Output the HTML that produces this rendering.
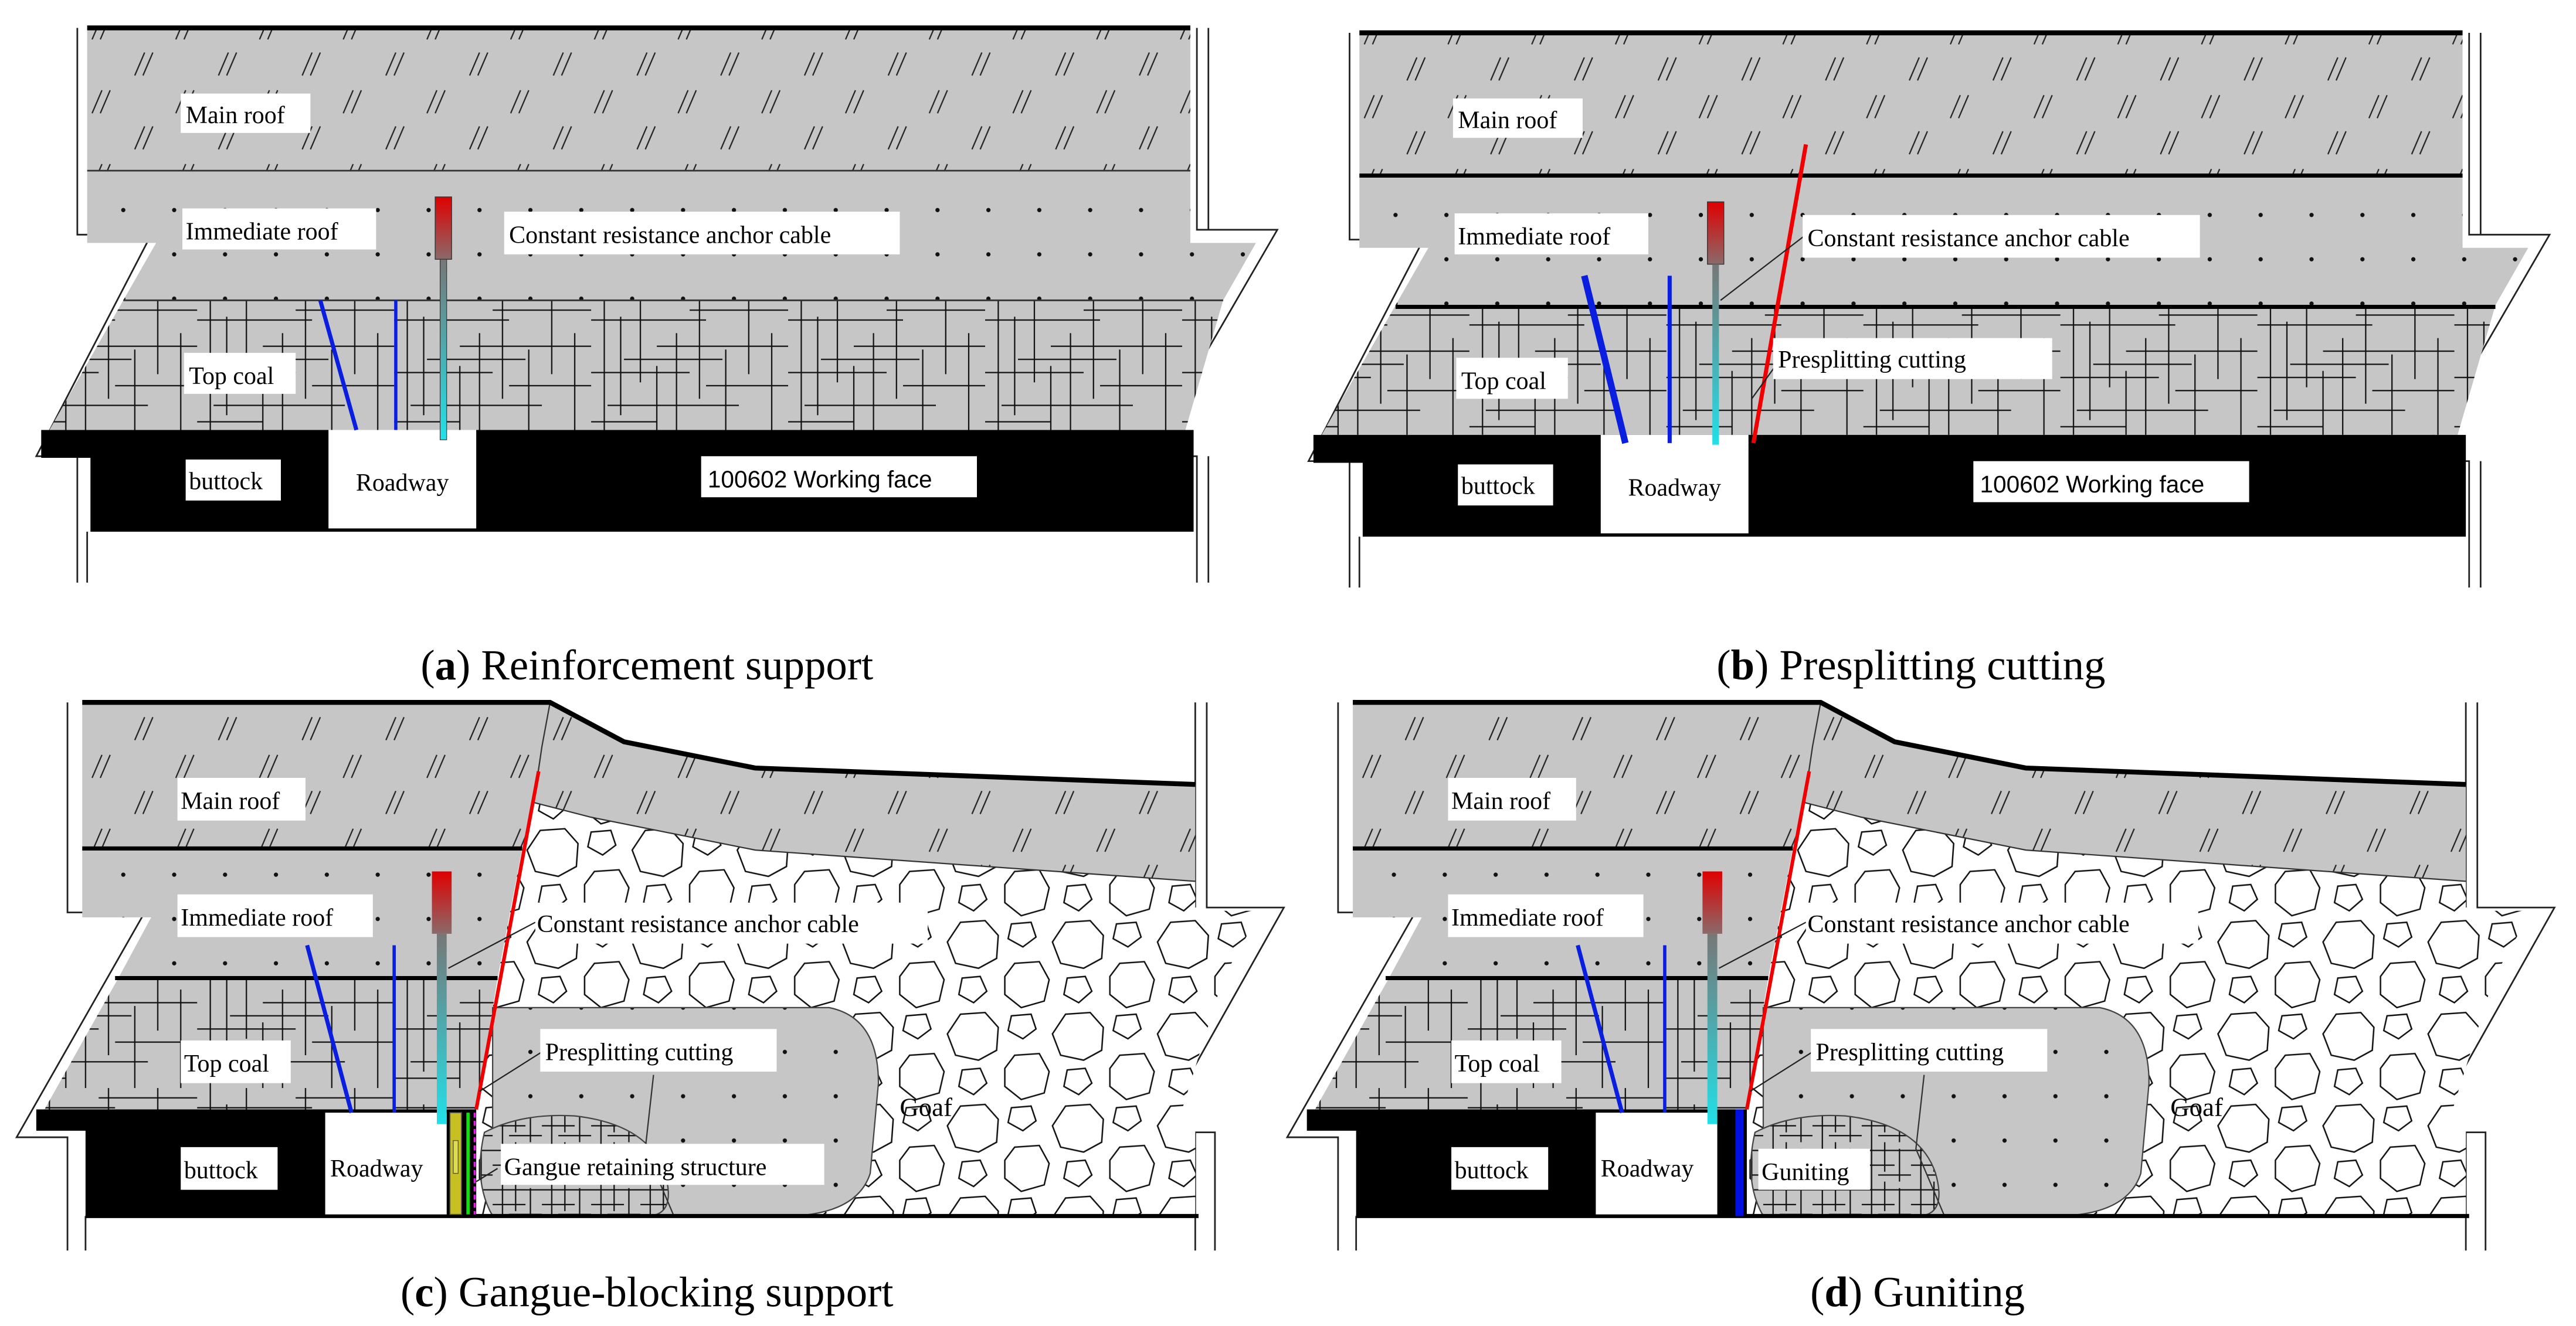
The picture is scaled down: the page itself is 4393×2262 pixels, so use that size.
<!DOCTYPE html>
<html><head><meta charset="utf-8"><style>
html,body{margin:0;padding:0;background:#fff;}
svg{display:block;}
text{font-family:"Liberation Serif",serif;}
</style></head><body>
<svg width="4393" height="2262" viewBox="0 0 1569 808" xmlns="http://www.w3.org/2000/svg" font-family="Liberation Serif, serif">
<defs>
<pattern id="hatch" patternUnits="userSpaceOnUse" width="51" height="45" x="0" y="6">
<rect width="51" height="45" fill="#c6c6c6"/>
<g stroke="#222" stroke-width="0.8">
<line x1="11" y1="4" x2="5" y2="18"/><line x1="16" y1="4" x2="10" y2="18"/>
<line x1="37" y1="26" x2="31" y2="40"/><line x1="42" y1="26" x2="36" y2="40"/>
</g></pattern>
<pattern id="dots" patternUnits="userSpaceOnUse" width="31" height="27" x="3" y="0">
<rect width="31" height="27" fill="#c6c6c6"/><circle cx="10" cy="20" r="1.3" fill="#111"/>
</pattern>
<pattern id="grid" patternUnits="userSpaceOnUse" width="120" height="80" x="0" y="183">
<rect width="120" height="80" fill="#c6c6c6"/>
<g stroke="#111" stroke-width="0.8">
<line x1="0" y1="12" x2="70" y2="12"/><line x1="40" y1="28" x2="120" y2="28"/>
<line x1="0" y1="44" x2="60" y2="44"/><line x1="70" y1="52" x2="120" y2="52"/>
<line x1="10" y1="64" x2="90" y2="64"/><line x1="0" y1="74" x2="40" y2="74"/>
<line x1="60" y1="6" x2="120" y2="6"/><line x1="20" y1="36" x2="80" y2="36"/>
<line x1="8" y1="0" x2="8" y2="80"/><line x1="18" y1="10" x2="18" y2="70"/>
<line x1="30" y1="0" x2="30" y2="50"/><line x1="52" y1="20" x2="52" y2="80"/>
<line x1="66" y1="0" x2="66" y2="60"/><line x1="82" y1="30" x2="82" y2="80"/>
<line x1="96" y1="0" x2="96" y2="45"/><line x1="110" y1="20" x2="110" y2="80"/>
<line x1="40" y1="40" x2="40" y2="80"/>
</g></pattern>
<pattern id="grid2" patternUnits="userSpaceOnUse" width="30" height="24">
<rect width="30" height="24" fill="#c6c6c6"/>
<g stroke="#111" stroke-width="0.8">
<line x1="0" y1="5" x2="30" y2="5"/><line x1="0" y1="14" x2="20" y2="14"/><line x1="10" y1="20" x2="30" y2="20"/>
<line x1="6" y1="0" x2="6" y2="24"/><line x1="14" y1="0" x2="14" y2="18"/><line x1="23" y1="4" x2="23" y2="24"/>
</g></pattern>
<pattern id="rocks" patternUnits="userSpaceOnUse" width="64" height="56">
<rect width="64" height="56" fill="#fff"/>
<g fill="none" stroke="#111" stroke-width="0.9">
<polygon points="9,2 24,1 32,10 31,24 20,30 6,27 1,14"/>
<polygon points="42,27 57,26 63,37 60,50 46,54 36,46 36,35"/>
<polygon points="40,3 52,2 55,11 47,17 38,12"/>
<polygon points="10,36 21,35 25,44 17,51 8,46"/>
</g></pattern>
<linearGradient id="anc" x1="0" y1="0" x2="0" y2="1">
<stop offset="0" stop-color="#e00000"/><stop offset="1" stop-color="#8a6a6a"/></linearGradient>
<linearGradient id="rod" x1="0" y1="0" x2="0" y2="1">
<stop offset="0" stop-color="#777"/><stop offset="1" stop-color="#22e0e8"/></linearGradient>
</defs>

<!-- (a) -->
<g>
<polyline points="47,17 47,143 92,143 22,278 47,278 47,355" fill="none" stroke="#222" stroke-width="1"/>
<line x1="53" y1="324" x2="53" y2="355" stroke="#222" stroke-width="1"/>
<polyline points="729,17 729,140 778,140 698,278 729,278 729,355" fill="none" stroke="#222" stroke-width="1"/>
<line x1="736" y1="17" x2="736" y2="140" stroke="#222" stroke-width="1"/>
<line x1="736" y1="278" x2="736" y2="355" stroke="#222" stroke-width="1"/>
<rect x="53" y="17" width="672" height="87" fill="url(#hatch)"/>
<polygon points="53,104 725,104 725,148 765,148 745,183 75,183 95,148 53,148" fill="url(#dots)"/>
<line x1="53" y1="104" x2="725" y2="104" stroke="#333" stroke-width="1"/>
<polygon points="75,183 745,183 722,262 30,262" fill="url(#grid)"/>
<line x1="75" y1="183" x2="745" y2="183" stroke="#333" stroke-width="1"/>
<polygon points="25,262 727,262 727,324 55,324 55,279 25,279" fill="#000"/>
<line x1="53" y1="17" x2="725" y2="17" stroke="#000" stroke-width="3"/>
<rect x="200" y="262" width="90" height="60" fill="#fff"/>
<text x="245" y="299" font-size="15" text-anchor="middle">Roadway</text>
<rect x="110" y="57" width="79" height="24" fill="#fff"/><text x="113" y="75" font-size="15">Main roof</text>
<rect x="111" y="127" width="118" height="25" fill="#fff"/><text x="113" y="146" font-size="15">Immediate roof</text>
<rect x="112" y="215" width="68" height="25" fill="#fff"/><text x="115" y="234" font-size="15">Top coal</text>
<rect x="113" y="280" width="58" height="25" fill="#fff"/><text x="115" y="298" font-size="15">buttock</text>
<rect x="427" y="278" width="168" height="25" fill="#fff"/><text x="431" y="297" font-size="14.5" font-family="Liberation Sans, sans-serif" style="font-family:'Liberation Sans',sans-serif">100602  Working face</text>
<line x1="195" y1="183" x2="217" y2="262" stroke="#0a1ee0" stroke-width="2.5"/>
<line x1="241" y1="183" x2="241" y2="262" stroke="#0a1ee0" stroke-width="2"/>
<rect x="265" y="120" width="10" height="38" fill="url(#anc)" stroke="#333" stroke-width="0.5"/>
<rect x="268" y="158" width="4" height="110" fill="url(#rod)" stroke="#333" stroke-width="0.4"/>
<rect x="307" y="129" width="241" height="26" fill="#fff"/><text x="310" y="148" font-size="15">Constant resistance anchor cable</text>
</g>
<text x="394" y="414" font-size="26" text-anchor="middle">(<tspan font-weight="bold">a</tspan>) Reinforcement support</text>

<!-- (b) -->
<g transform="translate(775,3)">
<polyline points="47,17 47,143 92,143 22,278 47,278 47,355" fill="none" stroke="#222" stroke-width="1"/>
<line x1="53" y1="324" x2="53" y2="355" stroke="#222" stroke-width="1"/>
<polyline points="729,17 729,140 778,140 698,278 729,278 729,355" fill="none" stroke="#222" stroke-width="1"/>
<line x1="736" y1="17" x2="736" y2="140" stroke="#222" stroke-width="1"/>
<line x1="736" y1="278" x2="736" y2="355" stroke="#222" stroke-width="1"/>
<rect x="53" y="17" width="672" height="87" fill="url(#hatch)"/>
<polygon points="53,104 725,104 725,148 765,148 745,183 75,183 95,148 53,148" fill="url(#dots)"/>
<polygon points="75,183 745,183 722,262 30,262" fill="url(#grid)"/>
<polygon points="25,262 727,262 727,324 55,324 55,279 25,279" fill="#000"/>
<line x1="53" y1="17" x2="725" y2="17" stroke="#000" stroke-width="3"/>
<line x1="53" y1="104" x2="725" y2="104" stroke="#000" stroke-width="2.5"/>
<line x1="75" y1="184" x2="745" y2="184" stroke="#000" stroke-width="2.5"/>
<rect x="200" y="262" width="90" height="60" fill="#fff"/>
<text x="245" y="299" font-size="15" text-anchor="middle">Roadway</text>
<rect x="110" y="57" width="79" height="24" fill="#fff"/><text x="113" y="75" font-size="15">Main roof</text>
<rect x="111" y="127" width="118" height="25" fill="#fff"/><text x="113" y="146" font-size="15">Immediate roof</text>
<rect x="112" y="215" width="68" height="25" fill="#fff"/><text x="115" y="234" font-size="15">Top coal</text>
<rect x="113" y="280" width="58" height="25" fill="#fff"/><text x="115" y="298" font-size="15">buttock</text>
<rect x="427" y="278" width="168" height="25" fill="#fff"/><text x="431" y="297" font-size="14.5" font-family="Liberation Sans, sans-serif" style="font-family:'Liberation Sans',sans-serif">100602  Working face</text>
<line x1="293" y1="267" x2="325" y2="85" stroke="#f00000" stroke-width="2.5"/>
<rect x="265" y="120" width="10" height="38" fill="url(#anc)" stroke="#333" stroke-width="0.5"/>
<rect x="268" y="158" width="4" height="110" fill="url(#rod)"/>
<line x1="273" y1="180" x2="325" y2="140" stroke="#222" stroke-width="0.8"/>
<line x1="292" y1="240" x2="310" y2="215" stroke="#222" stroke-width="0.8"/>
<line x1="190" y1="165" x2="215" y2="267" stroke="#0a1ee0" stroke-width="4"/>
<line x1="242" y1="165" x2="242" y2="267" stroke="#0a1ee0" stroke-width="2.5"/>
<rect x="323" y="128" width="242" height="26" fill="#fff"/><text x="326" y="147" font-size="15">Constant resistance anchor cable</text>
<rect x="305" y="203" width="170" height="25" fill="#fff"/><text x="308" y="221" font-size="15">Presplitting cutting</text>
</g>
<text x="1164" y="414" font-size="26" text-anchor="middle">(<tspan font-weight="bold">b</tspan>) Presplitting cutting</text>

<!-- (c) -->
<g>
<polyline points="41,428 41,556 88,556 10,693 41,693 41,762" fill="none" stroke="#222" stroke-width="1"/>
<line x1="52" y1="741" x2="52" y2="762" stroke="#222" stroke-width="1"/>
<polyline points="735,428 735,553 782,553 705,690 740,690 740,762" fill="none" stroke="#222" stroke-width="1"/>
<line x1="728" y1="428" x2="728" y2="553" stroke="#222" stroke-width="1"/>
<line x1="728" y1="690" x2="728" y2="762" stroke="#222" stroke-width="1"/>
<polygon points="318,517 325,489 360,498 460,518 728,537 728,555 768,555 745,596 720,676 728,676 728,740 290,740 290,676 303,596" fill="url(#rocks)"/>
<polygon points="50,428 335,428 380,452 460,468 728,478 728,537 460,518 360,498 325,489 318,517 50,517" fill="url(#hatch)"/>
<polyline points="335,428 330,455 325,489" fill="none" stroke="#333" stroke-width="0.8"/>
<polyline points="50,428 335,428 380,452 460,468 728,478" fill="none" stroke="#000" stroke-width="3"/>
<polyline points="325,489 360,498 460,518 728,537" fill="none" stroke="#333" stroke-width="0.8"/>
<polygon points="50,517 318,517 303,596 72,596 92,559 50,559" fill="url(#dots)"/>
<line x1="50" y1="517" x2="318" y2="517" stroke="#000" stroke-width="2.5"/>
<polygon points="72,596 303,596 290,676 27,676" fill="url(#grid)"/>
<line x1="70" y1="596" x2="303" y2="596" stroke="#000" stroke-width="2.5"/>
<path d="M300,614 L505,614 Q535,620 535,660 L530,715 Q522,740 480,741 L300,741 Z" fill="url(#dots)" stroke="#444" stroke-width="0.8"/>
<path d="M295,690 Q318,678 350,680 Q395,685 405,715 Q412,740 395,741 L300,741 Q288,720 295,690Z" fill="url(#grid2)" stroke="#444" stroke-width="0.8"/>
<polyline points="398,655 393,700 410,740" fill="none" stroke="#333" stroke-width="0.8"/>
<polygon points="22,676 290,676 290,741 52,741 52,689 22,689" fill="#000"/>
<line x1="52" y1="741" x2="730" y2="741" stroke="#000" stroke-width="2.5"/>
<rect x="198" y="678" width="74" height="62" fill="#fff"/>
<text x="201" y="717" font-size="15">Roadway</text>
<line x1="290" y1="676" x2="328" y2="470" stroke="#f00000" stroke-width="2.2"/>
<line x1="187" y1="576" x2="214" y2="678" stroke="#0a1ee0" stroke-width="2.5"/>
<line x1="240" y1="576" x2="240" y2="678" stroke="#0a1ee0" stroke-width="2"/>
<rect x="263" y="531" width="12" height="38" fill="url(#anc)"/>
<rect x="266" y="569" width="6" height="116" fill="url(#rod)"/>
<line x1="273" y1="590" x2="326" y2="562" stroke="#222" stroke-width="0.8"/>
<line x1="292" y1="665" x2="330" y2="641" stroke="#222" stroke-width="0.8"/>
<rect x="108" y="474" width="78" height="26" fill="#fff"/><text x="110" y="493" font-size="15">Main roof</text>
<rect x="108" y="545" width="119" height="26" fill="#fff"/><text x="110" y="564" font-size="15">Immediate roof</text>
<rect x="326" y="550" width="239" height="25" fill="#fff"/><text x="327" y="568" font-size="15">Constant resistance anchor cable</text>
<rect x="329" y="627" width="144" height="26" fill="#fff"/><text x="332" y="646" font-size="15">Presplitting cutting</text>
<rect x="110" y="634" width="67" height="26" fill="#fff"/><text x="112" y="653" font-size="15">Top coal</text>
<rect x="110" y="699" width="59" height="26" fill="#fff"/><text x="112" y="718" font-size="15">buttock</text>
<text x="548" y="680" font-size="16">Goaf</text>
<rect x="274" y="678" width="7" height="62" fill="#c8c020" stroke="#555" stroke-width="0.6"/>
<rect x="276" y="695" width="3" height="20" fill="#e0dc50" stroke="#555" stroke-width="0.5"/>
<line x1="285" y1="678" x2="285" y2="740" stroke="#10e010" stroke-width="2"/>
<line x1="289" y1="678" x2="289" y2="740" stroke="#e020e0" stroke-width="1.2" stroke-dasharray="3,2"/>
<line x1="290" y1="720" x2="303" y2="712" stroke="#222" stroke-width="0.8"/>
<rect x="305" y="697" width="197" height="25" fill="#fff"/><text x="307" y="716" font-size="15">Gangue retaining structure</text>
</g>
<text x="394" y="796" font-size="26" text-anchor="middle">(<tspan font-weight="bold">c</tspan>) Gangue-blocking support</text>

<!-- (d) -->
<g transform="translate(774,0)">
<polyline points="41,428 41,556 88,556 10,693 41,693 41,762" fill="none" stroke="#222" stroke-width="1"/>
<line x1="52" y1="741" x2="52" y2="762" stroke="#222" stroke-width="1"/>
<polyline points="735,428 735,553 782,553 705,690 740,690 740,762" fill="none" stroke="#222" stroke-width="1"/>
<line x1="728" y1="428" x2="728" y2="553" stroke="#222" stroke-width="1"/>
<line x1="728" y1="690" x2="728" y2="762" stroke="#222" stroke-width="1"/>
<polygon points="318,517 325,489 360,498 460,518 728,537 728,555 768,555 745,596 720,676 728,676 728,740 290,740 290,676 303,596" fill="url(#rocks)"/>
<polygon points="50,428 335,428 380,452 460,468 728,478 728,537 460,518 360,498 325,489 318,517 50,517" fill="url(#hatch)"/>
<polyline points="335,428 330,455 325,489" fill="none" stroke="#333" stroke-width="0.8"/>
<polyline points="50,428 335,428 380,452 460,468 728,478" fill="none" stroke="#000" stroke-width="3"/>
<polyline points="325,489 360,498 460,518 728,537" fill="none" stroke="#333" stroke-width="0.8"/>
<polygon points="50,517 318,517 303,596 72,596 92,559 50,559" fill="url(#dots)"/>
<line x1="50" y1="517" x2="318" y2="517" stroke="#000" stroke-width="2.5"/>
<polygon points="72,596 303,596 290,676 27,676" fill="url(#grid)"/>
<line x1="70" y1="596" x2="303" y2="596" stroke="#000" stroke-width="2.5"/>
<path d="M300,614 L505,614 Q535,620 535,660 L530,715 Q522,740 480,741 L300,741 Z" fill="url(#dots)" stroke="#444" stroke-width="0.8"/>
<path d="M295,690 Q318,678 350,680 Q395,685 405,715 Q412,740 395,741 L300,741 Q288,720 295,690Z" fill="url(#grid2)" stroke="#444" stroke-width="0.8"/>
<polyline points="398,655 393,700 410,740" fill="none" stroke="#333" stroke-width="0.8"/>
<polygon points="22,676 290,676 290,741 52,741 52,689 22,689" fill="#000"/>
<line x1="52" y1="741" x2="730" y2="741" stroke="#000" stroke-width="2.5"/>
<rect x="198" y="678" width="74" height="62" fill="#fff"/>
<text x="201" y="717" font-size="15">Roadway</text>
<line x1="290" y1="676" x2="328" y2="470" stroke="#f00000" stroke-width="2.2"/>
<line x1="187" y1="576" x2="214" y2="678" stroke="#0a1ee0" stroke-width="2.5"/>
<line x1="240" y1="576" x2="240" y2="678" stroke="#0a1ee0" stroke-width="2"/>
<rect x="263" y="531" width="12" height="38" fill="url(#anc)"/>
<rect x="266" y="569" width="6" height="116" fill="url(#rod)"/>
<line x1="273" y1="590" x2="326" y2="562" stroke="#222" stroke-width="0.8"/>
<line x1="292" y1="665" x2="330" y2="641" stroke="#222" stroke-width="0.8"/>
<rect x="108" y="474" width="78" height="26" fill="#fff"/><text x="110" y="493" font-size="15">Main roof</text>
<rect x="108" y="545" width="119" height="26" fill="#fff"/><text x="110" y="564" font-size="15">Immediate roof</text>
<rect x="326" y="550" width="239" height="25" fill="#fff"/><text x="327" y="568" font-size="15">Constant resistance anchor cable</text>
<rect x="329" y="627" width="144" height="26" fill="#fff"/><text x="332" y="646" font-size="15">Presplitting cutting</text>
<rect x="110" y="634" width="67" height="26" fill="#fff"/><text x="112" y="653" font-size="15">Top coal</text>
<rect x="110" y="699" width="59" height="26" fill="#fff"/><text x="112" y="718" font-size="15">buttock</text>
<text x="548" y="680" font-size="16">Goaf</text>
<rect x="283" y="676" width="5" height="65" fill="#0010e0"/>
<rect x="297" y="700" width="68" height="25" fill="#fff"/><text x="299" y="719" font-size="15">Guniting</text>
</g>
<text x="1168" y="796" font-size="26" text-anchor="middle">(<tspan font-weight="bold">d</tspan>) Guniting</text>
</svg>
</body></html>
